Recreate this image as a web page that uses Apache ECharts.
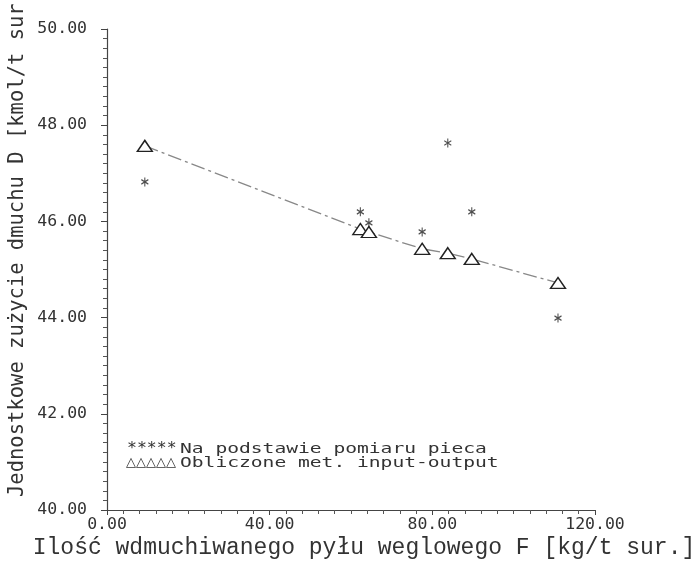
<!DOCTYPE html>
<html>
<head>
<meta charset="utf-8">
<script src="https://cdn.jsdelivr.net/npm/echarts@6/dist/echarts.min.js"></script>
<style>
html,body{margin:0;padding:0;background:#fff;}
#chart{width:696px;height:564px;}
</style>
</head>
<body>
<div id="chart"></div>
<script>
// Data
const xF = [9.3, 62.3, 64.4, 77.5, 83.8, 89.7, 110.9];            // F [kg/t sur.]
const dMeasured = [46.82, 46.20, 45.97, 45.78, 47.63, 46.20, 43.99]; // Na podstawie pomiaru pieca
const dComputed = [47.57, 45.84, 45.78, 45.43, 45.34, 45.22, 44.72]; // Obliczone met. input-output
const xTicks = [0, 40, 80, 120];
const yTicks = [40, 42, 44, 46, 48, 50];
const seriesNames = ['Na podstawie pomiaru pieca', 'Obliczone met. input-output'];
const xTitle = 'Ilość wdmuchiwanego pyłu weglowego F [kg/t sur.]';
const yTitle = 'Jednostkowe zużycie dmuchu D [kmol/t sur.]';

const ink = '#333';
const tickFont = 'DejaVu Sans Mono';
const chart = echarts.init(document.getElementById('chart'), null, {renderer: 'canvas'});

const asterisk = 'path://M0,-5L0,5M-4.3,-2.5L4.3,2.5M-4.3,2.5L4.3,-2.5';

chart.setOption({
  backgroundColor: '#fff',
  animation: false,
  grid: {left: 107, right: 101, top: 29, bottom: 54},
  xAxis: {
    type: 'value', min: xTicks[0], max: xTicks[xTicks.length - 1], interval: 40,
    axisLine: {show: true, lineStyle: {color: '#444', width: 1.2}},
    axisTick: {show: true, length: 5, lineStyle: {color: '#444'}},
    minorTick: {show: true, splitNumber: 10, length: 4, lineStyle: {color: '#555'}},
    splitLine: {show: false},
    axisLabel: {color: ink, fontFamily: tickFont, fontSize: 16.5, margin: 6,
      formatter: v => v.toFixed(2)}
  },
  yAxis: {
    type: 'value', min: yTicks[0], max: yTicks[yTicks.length - 1], interval: 2,
    axisLine: {show: true, lineStyle: {color: '#444', width: 1.2}},
    axisTick: {show: true, length: 6, lineStyle: {color: '#444'}},
    minorTick: {show: true, splitNumber: 10, length: 4, lineStyle: {color: '#555'}},
    splitLine: {show: false},
    axisLabel: {color: ink, fontFamily: tickFont, fontSize: 16.5, margin: 20,
      formatter: v => v.toFixed(2)}
  },
  series: [
    {
      name: seriesNames[0], type: 'scatter',
      data: xF.map((x, i) => [x, dMeasured[i]]),
      symbol: asterisk, symbolSize: [7, 9],
      itemStyle: {color: 'rgba(0,0,0,0)', borderColor: '#222', borderWidth: 1.2},
      z: 3
    },
    {
      name: seriesNames[1], type: 'line',
      data: xF.map((x, i) => [x, dComputed[i]]),
      symbol: 'triangle', symbolSize: [15, 11], showAllSymbol: true,
      itemStyle: {color: '#fff', borderColor: '#222', borderWidth: 1.4},
      lineStyle: {color: '#888', width: 1.3, type: [14, 4, 3, 4]},
      z: 2
    }
  ],
  graphic: [
    {type: 'text', x: 364, y: 548,
     style: {text: xTitle, font: '23px "Liberation Mono"', fill: ink,
             textAlign: 'center', textVerticalAlign: 'middle'}},
    {type: 'text', x: 18, y: 497, rotation: Math.PI / 2,
     style: {text: yTitle, font: '20.5px "DejaVu Sans Mono"', fill: ink,
             textAlign: 'left', textVerticalAlign: 'middle'}},
    {type: 'text', x: 127, y: 449, scaleX: 1.1,
     style: {text: '*****', font: '15px "DejaVu Sans Mono"', fill: ink,
             textAlign: 'left', textVerticalAlign: 'middle'}},
    {type: 'text', x: 126, y: 463,
     style: {text: '△△△△△', font: '13px "DejaVu Sans"', fill: ink,
             textAlign: 'left', textVerticalAlign: 'middle'}},
    {type: 'text', x: 180, y: 449, scaleX: 1.4,
     style: {text: seriesNames[0], font: '14px "DejaVu Sans Mono"', fill: ink,
             textAlign: 'left', textVerticalAlign: 'middle'}},
    {type: 'text', x: 180, y: 463, scaleX: 1.4,
     style: {text: seriesNames[1], font: '14px "DejaVu Sans Mono"', fill: ink,
             textAlign: 'left', textVerticalAlign: 'middle'}}
  ]
});
</script>
</body>
</html>
